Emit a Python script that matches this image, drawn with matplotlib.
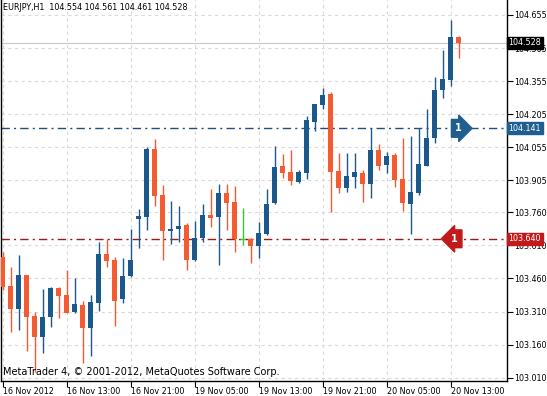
import matplotlib
matplotlib.use('Agg')
import matplotlib.pyplot as plt

# EURJPY H1 candles (oldest first)
opens = [103.559, 103.426, 103.322, 103.476, 103.291, 103.196, 103.284, 103.418, 103.385, 103.309,
         103.340, 103.237, 103.350, 103.571, 103.544, 103.365, 103.473, 103.731, 103.740, 104.047,
         103.839, 103.677, 103.683, 103.703, 103.544, 103.642, 103.748, 103.738, 103.849, 103.807,
         103.638, 103.638, 103.607, 103.662, 103.801, 103.970, 103.942, 103.899, 103.940, 104.171,
         104.247, 104.297, 103.948, 103.869, 103.922, 103.937, 103.887, 104.043, 103.973, 104.020,
         103.910, 103.797, 103.849, 103.972, 104.099, 104.315, 104.360, 104.554]
highs = [103.582, 103.511, 103.567, 103.478, 103.307, 103.412, 103.423, 103.421, 103.499, 103.461,
         103.358, 103.385, 103.627, 103.639, 103.556, 103.554, 103.683, 103.774, 104.058, 104.093,
         103.883, 103.811, 103.789, 103.710, 103.721, 103.798, 103.865, 103.889, 103.889, 103.880,
         103.778, 103.642, 103.718, 103.866, 104.061, 104.025, 104.043, 103.952, 104.197, 104.252,
         104.323, 104.307, 104.028, 104.028, 104.028, 103.952, 104.141, 104.070, 104.035, 104.028,
         104.099, 104.106, 104.141, 104.227, 104.375, 104.496, 104.632, 104.561]
lows = [103.408, 103.219, 103.226, 103.131, 103.036, 103.124, 103.241, 103.282, 103.303, 103.305,
        103.078, 103.110, 103.314, 103.511, 103.245, 103.349, 103.468, 103.597, 103.680, 103.789,
        103.544, 103.616, 103.624, 103.499, 103.541, 103.627, 103.692, 103.521, 103.680, 103.582,
        103.612, 103.529, 103.552, 103.657, 103.799, 103.914, 103.884, 103.894, 103.910, 104.129,
        104.227, 103.763, 103.849, 103.851, 103.869, 103.808, 103.824, 103.952, 103.940, 103.876,
        103.767, 103.662, 103.839, 103.970, 104.073, 104.277, 104.333, 104.461]
closes = [103.420, 103.323, 103.476, 103.287, 103.196, 103.287, 103.418, 103.382, 103.305, 103.344,
          103.237, 103.355, 103.571, 103.541, 103.359, 103.471, 103.544, 103.743, 104.047, 103.834,
          103.677, 103.686, 103.698, 103.544, 103.645, 103.748, 103.736, 103.849, 103.804, 103.638,
          103.638, 103.607, 103.665, 103.797, 103.964, 103.940, 103.904, 103.942, 104.179, 104.250,
          104.292, 103.942, 103.869, 103.925, 103.942, 103.887, 104.043, 103.972, 104.016, 103.907,
          103.801, 103.851, 103.978, 104.099, 104.315, 104.365, 104.554, 104.528]

xtick_pos = [0, 8, 16, 24, 32, 40, 48, 56]
xtick_labels = ['16 Nov 2012', '16 Nov 13:00', '16 Nov 21:00', '19 Nov 05:00',
                '19 Nov 13:00', '19 Nov 21:00', '20 Nov 05:00', '20 Nov 13:00']
ytick_vals = [104.655, 104.505, 104.355, 104.205, 104.055, 103.905,
              103.760, 103.610, 103.460, 103.310, 103.160, 103.010]

level_blue = 104.141
level_red = 103.640
last_price = 104.528

BLUE = '#1b588c'
ORANGE = '#f55a30'
GREEN = '#33cc33'

fig = plt.figure(figsize=(5.47, 3.96), dpi=100)
ax = fig.add_axes([1/547, 15/396, 506/547, 381/396])
ax.set_xlim(-0.2125, 63.04)
ax.set_ylim(102.995, 104.723)

# grid
for yv in ytick_vals:
    ax.axhline(yv, color='#dadada', lw=0.8, ls=(0, (3, 3)), zorder=0)
for xv in xtick_pos:
    ax.axvline(xv, color='#dadada', lw=0.8, ls=(0, (3, 3)), zorder=0)

# horizontal levels
ax.axhline(last_price, color='#c8c8c8', lw=0.8, zorder=1)
ax.axhline(level_blue, color='#1f4f7a', lw=1, ls=(0, (6, 3, 1.5, 3)), zorder=1)
ax.axhline(level_red, color='#a01818', lw=1, ls=(0, (6, 3, 1.5, 3)), zorder=1)

# candles
for i in range(len(opens)):
    o, h, l, c = opens[i], highs[i], lows[i], closes[i]
    if c > o:
        col = BLUE
    elif c < o:
        col = ORANGE
    else:
        col = GREEN
    ax.vlines(i, l, h, color=col, lw=1, zorder=2)
    if col == GREEN:
        ax.hlines(o, i - 0.3, i + 0.3, color=col, lw=1, zorder=3)
    else:
        ax.bar(i, max(abs(c - o), 0.004), bottom=min(o, c), width=0.6,
               color=col, lw=0, zorder=3)

# level badges
ax.text(57.0, level_blue, '1', color='white', fontsize=7, fontweight='bold',
        ha='center', va='center', zorder=5,
        bbox=dict(boxstyle='rarrow,pad=0.4', fc='#1f5f8f', ec='#1f5f8f'))
ax.text(56.5, level_red, '1', color='white', fontsize=7, fontweight='bold',
        ha='center', va='center', zorder=5,
        bbox=dict(boxstyle='larrow,pad=0.4', fc='#c21a1a', ec='#c21a1a'))

# axes styling
ax.spines['top'].set_visible(False)
for s in ['left', 'right', 'bottom']:
    ax.spines[s].set_color('black')
    ax.spines[s].set_linewidth(1)
ax.yaxis.tick_right()
ax.set_yticks(ytick_vals, [f'{v:.3f}' for v in ytick_vals])
ax.set_xticks(xtick_pos, xtick_labels, ha='left')
ax.tick_params(axis='y', labelsize=5.8, length=4, pad=1.5, colors='black')
ax.tick_params(axis='x', labelsize=5.8, length=4, pad=0.5, colors='black')

# price tags on the right axis
tag_x = 1.0 + 1.5/506
for val, bg in [(last_price, 'black'), (level_blue, '#1f5f8f'), (level_red, '#c21a1a')]:
    ax.text(tag_x, val, f'{val:.3f}', transform=ax.get_yaxis_transform(),
            color='white', fontsize=5.8, ha='left', va='center', zorder=6, clip_on=False,
            bbox=dict(boxstyle='square,pad=0.2', fc=bg, ec=bg))

fig.text(3/547, 1 - 8/396, 'EURJPY,H1  104.554 104.561 104.461 104.528',
         fontsize=5.8, ha='left', va='center')
fig.text(3/547, 1 - 372/396, 'MetaTrader 4, \u00a9 2001-2012, MetaQuotes Software Corp.',
         fontsize=7, ha='left', va='center')

fig.savefig('out.png', dpi=100)
